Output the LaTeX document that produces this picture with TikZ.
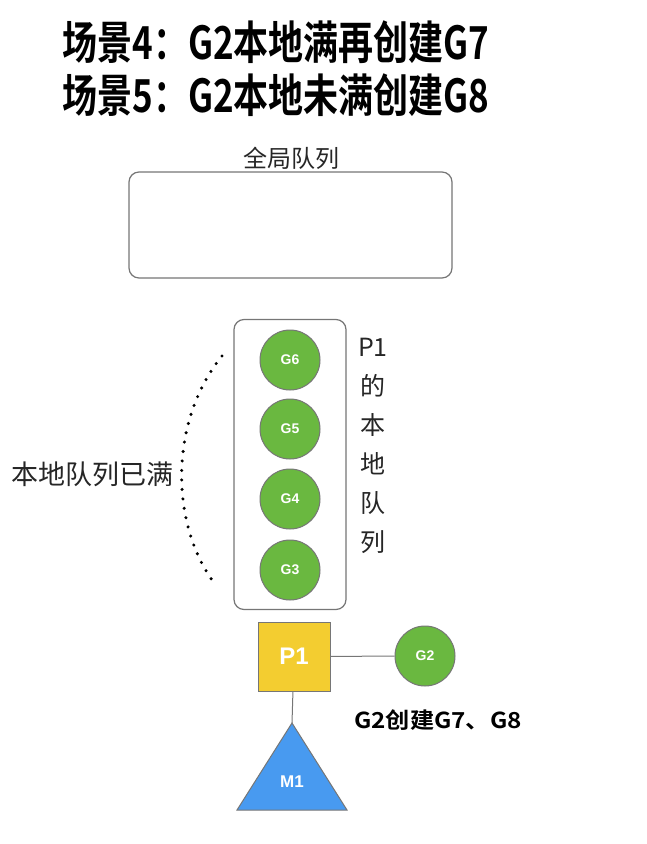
\documentclass[tikz,border=0pt]{standalone}
\usepackage{fontspec}
\setmainfont{Liberation Sans}
\newfontfamily\cjk{Noto Sans CJK SC}
\newfontfamily\cjkb{Noto Sans CJK SC Bold}
\definecolor{ggreen}{RGB}{106,184,64}
\definecolor{pyellow}{RGB}{243,205,48}
\definecolor{mblue}{RGB}{72,154,240}
\definecolor{edgegray}{RGB}{118,118,118}
\tikzset{
  qbox/.style={draw=edgegray, line width=1.2pt, rounded corners=10pt, fill=white},
  gnode/.style={circle, draw=edgegray, line width=1pt, fill=ggreen, minimum size=60pt, inner sep=0pt, text=white, font=\bfseries\fontsize{14}{16}\selectfont},
  pnode/.style={draw=edgegray, line width=1pt, fill=pyellow, minimum width=72pt, minimum height=69pt, inner sep=0pt, text=white, font=\bfseries\fontsize{24}{28}\selectfont},
  link/.style={draw=edgegray, line width=1pt},
  lighttext/.style={font=\cjk\fontsize{25}{30}\selectfont, text=black!85},
  titletext/.style={font=\cjkb\fontsize{35}{40}\selectfont, yscale=1.3},
}
\begin{document}
\begin{tikzpicture}[x=1pt,y=-1pt]
\useasboundingbox (0,0) rectangle (646,844);
% title
\node[titletext] (t1) at (276,42) {场景4：G2本地满再创建G7};
\node[titletext] (t2) at (276,95) {场景5：G2本地未满创建G8};
% global queue
\node[qbox, minimum width=323pt, minimum height=106pt] (gq) at (290.5,225) {};
\node[lighttext, font=\cjk\fontsize{24}{28}\selectfont] (gql) at (291,158) {全局队列};
% local queue
\node[qbox, minimum width=112pt, minimum height=290pt] (lq) at (290,464.5) {};
\node[gnode] (g6) at (290,360) {G6};
\node[gnode] (g5) at (290,429) {G5};
\node[gnode] (g4) at (290,499) {G4};
\node[gnode] (g3) at (290,570) {G3};
\node[lighttext, align=center, font=\cjk\fontsize{25}{39}\selectfont] (lql) at (373,446) {P1\\的\\本\\地\\队\\列};
% dotted arc
\coordinate (arcA) at (222,356);
\coordinate (arcB) at (212,580);
\draw[line width=3.4pt, dash pattern=on 0pt off 9.5pt, line cap=round] (arcA) .. controls (170,420) and (170,520) .. (arcB);
\node[lighttext, font=\cjk\fontsize{27}{30}\selectfont] (full) at (93,474) {本地队列已满};
% P1, G2, M1
\node[pnode] (p1) at (294,656.5) {P1};
\node[gnode] (g2) at (425,656) {G2};
\draw[link] (p1) -- (g2);
\coordinate (m1top) at (292,723);
\draw[link, fill=mblue] (m1top) -- (347,810) -- (237,810) -- cycle;
\node[text=white, font=\bfseries\fontsize{17}{20}\selectfont] (m1) at (292,782) {M1};
\draw[link] (p1) -- (m1top);
\node[font=\cjkb\fontsize{22}{26}\selectfont, xscale=1.1] (note) at (438,720) {G2创建G7、G8};
\end{tikzpicture}
\end{document}
